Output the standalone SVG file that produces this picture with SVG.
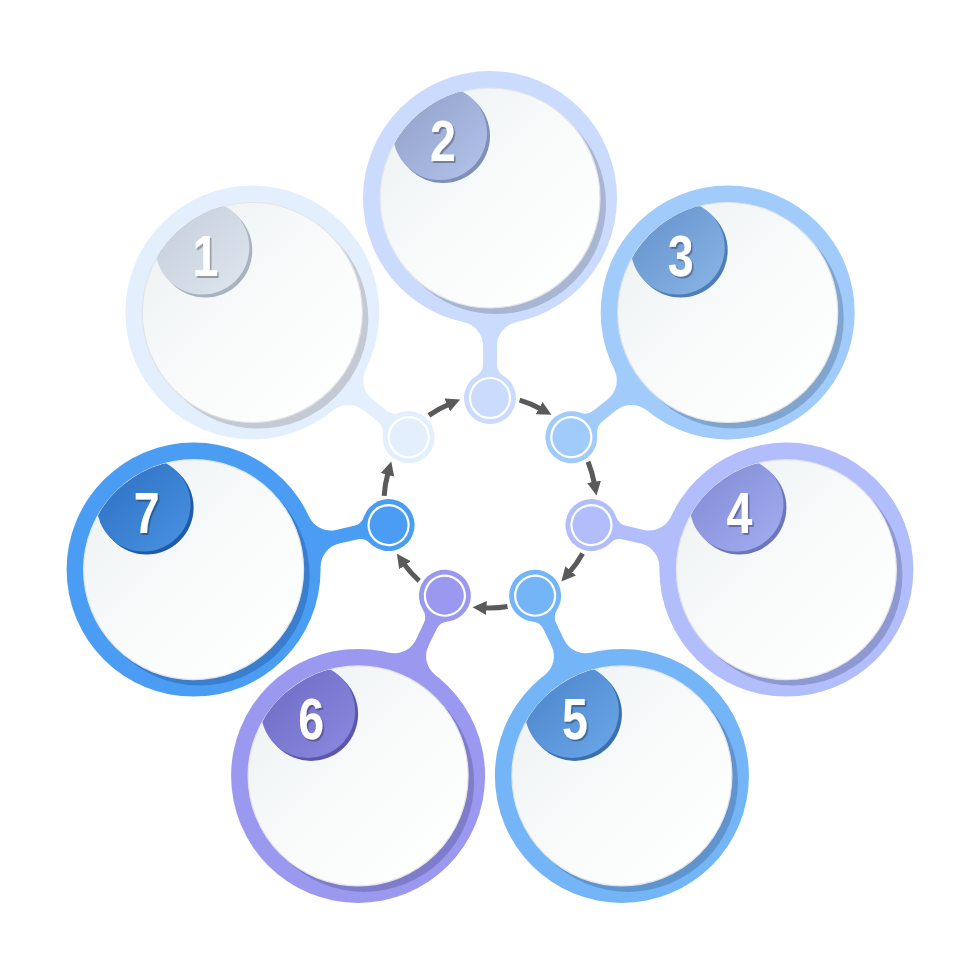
<svg xmlns="http://www.w3.org/2000/svg" width="980" height="980" viewBox="0 0 980 980">
<style>
.inner{fill:url(#gInner);stroke:#e2e4e6;stroke-width:1.2}
.dot{fill:none;stroke:#ffffff;stroke-width:2.2}
.num{font-family:"Liberation Sans","DejaVu Sans",sans-serif;font-weight:bold;font-size:58px;fill:#ffffff;text-anchor:middle;filter:url(#fNum)}
.arrow{fill:none;stroke:#5a5a5a;stroke-width:5;marker-end:url(#head)}
</style>
<defs>
<linearGradient id="gInner" x1="0" y1="0" x2="1" y2="1"><stop offset="0" stop-color="#ebf0f1"/><stop offset="0.5" stop-color="#f9fbfb"/><stop offset="1" stop-color="#ffffff"/></linearGradient>
<linearGradient id="b1" x1="0" y1="0" x2="1" y2="1"><stop offset="0" stop-color="#c3ccd9"/><stop offset="1" stop-color="#dfe6ef"/></linearGradient>
<linearGradient id="b2" x1="0" y1="0" x2="1" y2="1"><stop offset="0" stop-color="#8e9ec7"/><stop offset="1" stop-color="#b4c3ea"/></linearGradient>
<linearGradient id="b3" x1="0" y1="0" x2="1" y2="1"><stop offset="0" stop-color="#5f8ec8"/><stop offset="1" stop-color="#8cb6e8"/></linearGradient>
<linearGradient id="b4" x1="0" y1="0" x2="1" y2="1"><stop offset="0" stop-color="#7f88d0"/><stop offset="1" stop-color="#a4aef2"/></linearGradient>
<linearGradient id="b5" x1="0" y1="0" x2="1" y2="1"><stop offset="0" stop-color="#4a82c6"/><stop offset="1" stop-color="#6aa8ea"/></linearGradient>
<linearGradient id="b6" x1="0" y1="0" x2="1" y2="1"><stop offset="0" stop-color="#6b68c2"/><stop offset="1" stop-color="#8c89e0"/></linearGradient>
<linearGradient id="b7" x1="0" y1="0" x2="1" y2="1"><stop offset="0" stop-color="#2b6ebf"/><stop offset="1" stop-color="#4a92e2"/></linearGradient>
<clipPath id="ci"><circle r="110"/></clipPath>
<filter id="fNum" x="-30%" y="-30%" width="160%" height="160%"><feDropShadow dx="2" dy="2" stdDeviation="0.4" flood-color="#000000" flood-opacity="0.3"/></filter>
<path id="stem" d="M-177.87 -13.65 A14 14 0 0 0 -165.96 -7 L-147.8 -7 A24 24 0 0 0 -124.3 -26.07 L-124.3 26.07 A24 24 0 0 0 -147.8 7 L-165.96 7 A14 14 0 0 0 -177.87 13.65 Z"/>
<marker id="head" markerUnits="userSpaceOnUse" viewBox="0 0 14 14" markerWidth="14" markerHeight="14" refX="2" refY="7" orient="auto"><path d="M0 0 L14 7 L0 14 Z" fill="#5a5a5a"/></marker>
</defs>
<rect width="980" height="980" fill="#ffffff"/>

<g id="step-1" transform="translate(252.3,312.5)">
 <g transform="rotate(-141.43)" fill="#e4effd"><use href="#stem"/><circle cx="-200" r="26"/><circle cx="-200" r="20" class="dot"/></g>
 <circle r="127" fill="#e4effd"/>
 <circle cx="6" cy="6" r="110" fill="#c3cad4"/>
 <circle r="110" class="inner"/>
 <g clip-path="url(#ci)"><circle cx="-47" cy="-62" r="47" fill="#a9b2bf"/><circle cx="-50" cy="-65" r="47" fill="url(#b1)"/></g>
 <text transform="translate(-47,-37) scale(0.8,1)" class="num">1</text>
</g>

<g id="step-2" transform="translate(490,198)">
 <g transform="rotate(-90)" fill="#cadbfd"><use href="#stem"/><circle cx="-200" r="26"/><circle cx="-200" r="20" class="dot"/></g>
 <circle r="127" fill="#cadbfd"/>
 <circle cx="6" cy="6" r="110" fill="#a8b5d3"/>
 <circle r="110" class="inner"/>
 <g clip-path="url(#ci)"><circle cx="-47" cy="-62" r="47" fill="#7f8fb8"/><circle cx="-50" cy="-65" r="47" fill="url(#b2)"/></g>
 <text transform="translate(-47,-37) scale(0.8,1)" class="num">2</text>
</g>

<g id="step-3" transform="translate(727.7,312.5)">
 <g transform="rotate(-38.57)" fill="#a0cbfa"><use href="#stem"/><circle cx="-200" r="26"/><circle cx="-200" r="20" class="dot"/></g>
 <circle r="127" fill="#a0cbfa"/>
 <circle cx="6" cy="6" r="110" fill="#80a6d0"/>
 <circle r="110" class="inner"/>
 <g clip-path="url(#ci)"><circle cx="-47" cy="-62" r="47" fill="#4f7db5"/><circle cx="-50" cy="-65" r="47" fill="url(#b3)"/></g>
 <text transform="translate(-47,-37) scale(0.8,1)" class="num">3</text>
</g>

<g id="step-4" transform="translate(786.4,569.6)">
 <g transform="rotate(12.86)" fill="#b2bdfc"><use href="#stem"/><circle cx="-200" r="26"/><circle cx="-200" r="20" class="dot"/></g>
 <circle r="127" fill="#b2bdfc"/>
 <circle cx="6" cy="6" r="110" fill="#8e98d2"/>
 <circle r="110" class="inner"/>
 <g clip-path="url(#ci)"><circle cx="-47" cy="-62" r="47" fill="#6d76bb"/><circle cx="-50" cy="-65" r="47" fill="url(#b4)"/></g>
 <text transform="translate(-47,-37) scale(0.8,1)" class="num">4</text>
</g>

<g id="step-5" transform="translate(621.9,775.9)">
 <g transform="rotate(64.29)" fill="#74b5f8"><use href="#stem"/><circle cx="-200" r="26"/><circle cx="-200" r="20" class="dot"/></g>
 <circle r="127" fill="#74b5f8"/>
 <circle cx="6" cy="6" r="110" fill="#5f94cf"/>
 <circle r="110" class="inner"/>
 <g clip-path="url(#ci)"><circle cx="-47" cy="-62" r="47" fill="#3b6fae"/><circle cx="-50" cy="-65" r="47" fill="url(#b5)"/></g>
 <text transform="translate(-47,-37) scale(0.8,1)" class="num">5</text>
</g>

<g id="step-6" transform="translate(358.1,775.9)">
 <g transform="rotate(115.71)" fill="#9a99ef"><use href="#stem"/><circle cx="-200" r="26"/><circle cx="-200" r="20" class="dot"/></g>
 <circle r="127" fill="#9a99ef"/>
 <circle cx="6" cy="6" r="110" fill="#7f7dcb"/>
 <circle r="110" class="inner"/>
 <g clip-path="url(#ci)"><circle cx="-47" cy="-62" r="47" fill="#5a57ad"/><circle cx="-50" cy="-65" r="47" fill="url(#b6)"/></g>
 <text transform="translate(-47,-37) scale(0.8,1)" class="num">6</text>
</g>

<g id="step-7" transform="translate(193.6,569.6)">
 <g transform="rotate(167.14)" fill="#4a9df3"><use href="#stem"/><circle cx="-200" r="26"/><circle cx="-200" r="20" class="dot"/></g>
 <circle r="127" fill="#4a9df3"/>
 <circle cx="6" cy="6" r="110" fill="#3a7ecf"/>
 <circle r="110" class="inner"/>
 <g clip-path="url(#ci)"><circle cx="-47" cy="-62" r="47" fill="#1f5ca8"/><circle cx="-50" cy="-65" r="47" fill="url(#b7)"/></g>
 <text transform="translate(-47,-37) scale(0.8,1)" class="num">7</text>
</g>

<g id="connectors">
 <path class="arrow" d="M428.9 415.4 A106 106 0 0 1 449.1 404.2"/>
 <path class="arrow" d="M519.6 400.2 A106 106 0 0 1 540.9 409.0"/>
 <path class="arrow" d="M588.0 461.7 A106 106 0 0 1 594.4 483.8"/>
 <path class="arrow" d="M582.6 553.5 A106 106 0 0 1 569.3 572.4"/>
 <path class="arrow" d="M507.5 606.5 A106 106 0 0 1 484.5 607.9"/>
 <path class="arrow" d="M419.2 580.9 A106 106 0 0 1 403.8 563.6"/>
 <path class="arrow" d="M384.2 495.8 A106 106 0 0 1 388.0 473.0"/>
</g>
</svg>
